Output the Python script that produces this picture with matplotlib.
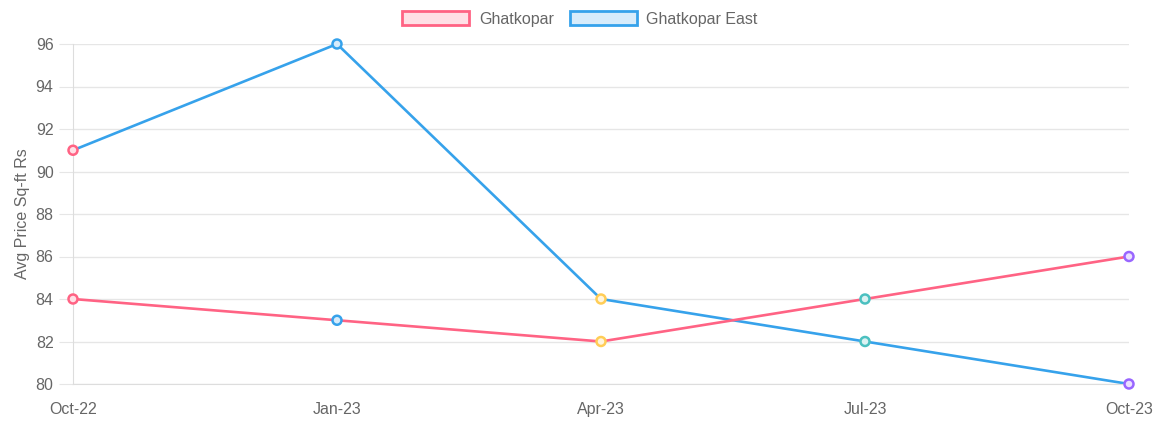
import matplotlib.pyplot as plt
from matplotlib.patches import Patch

months = ['Oct-22', 'Jan-23', 'Apr-23', 'Jul-23', 'Oct-23']
ghatkopar = [84, 83, 82, 84, 86]
ghatkopar_east = [91, 96, 84, 82, 80]
yticks = [80, 82, 84, 86, 88, 90, 92, 94, 96]

# chart.js default palette, one colour per point
palette = ['#ff6384', '#36a2eb', '#ffcd56', '#4bc0c0', '#9966ff']
palette_light = ['#ffe0e6', '#d7ecfb', '#fff5dd', '#dbf2f2', '#ebe0ff']

plt.rcParams['font.family'] = ['Liberation Sans', 'DejaVu Sans']
fs = 11.5

fig = plt.figure(figsize=(11.6, 4.24), dpi=100)
ax = fig.add_axes([73 / 1160, 1 - 384 / 424, (1129 - 73) / 1160, (384 - 44) / 424])

x = list(range(len(months)))
series = [(ghatkopar_east, '#36a2eb', 2), (ghatkopar, '#ff6384', 3)]
for vals, col, z in series:
    ax.plot(x, vals, color=col, lw=1.9, zorder=z, clip_on=False)
    ax.scatter(x, vals, s=42, c=palette_light, edgecolors=palette, linewidths=1.8,
               zorder=z + 2, clip_on=False)

ax.set_xlim(0, 4)
ax.set_ylim(80, 96)
ax.set_xticks(x)
ax.set_xticklabels(months)
ax.set_yticks(yticks)

ax.grid(axis='y', color='#e6e6e6', lw=1)
ax.set_axisbelow(True)
for s in ['top', 'right']:
    ax.spines[s].set_visible(False)
for s in ['left', 'bottom']:
    ax.spines[s].set_color('#dddddd')
ax.tick_params(axis='y', length=10, color='#e6e6e6', labelcolor='#666666', labelsize=fs, pad=4)
ax.tick_params(axis='x', length=0, labelcolor='#666666', labelsize=fs, pad=13)
ax.set_ylabel('Avg Price Sq-ft Rs', color='#666666', fontsize=fs, labelpad=4)

handles = [Patch(facecolor='#ffe0e6', edgecolor='#ff6384', lw=2),
           Patch(facecolor='#d7ecfb', edgecolor='#36a2eb', lw=2)]
fig.legend(handles, ['Ghatkopar', 'Ghatkopar East'], loc='upper center',
           bbox_to_anchor=(0.5, 1.0), ncol=2, frameon=False, fontsize=fs,
           labelcolor='#666666', handlelength=4.2, handleheight=1.0,
           columnspacing=1.0, handletextpad=0.6, borderaxespad=0.3)

fig.savefig('out.png', dpi=100)
